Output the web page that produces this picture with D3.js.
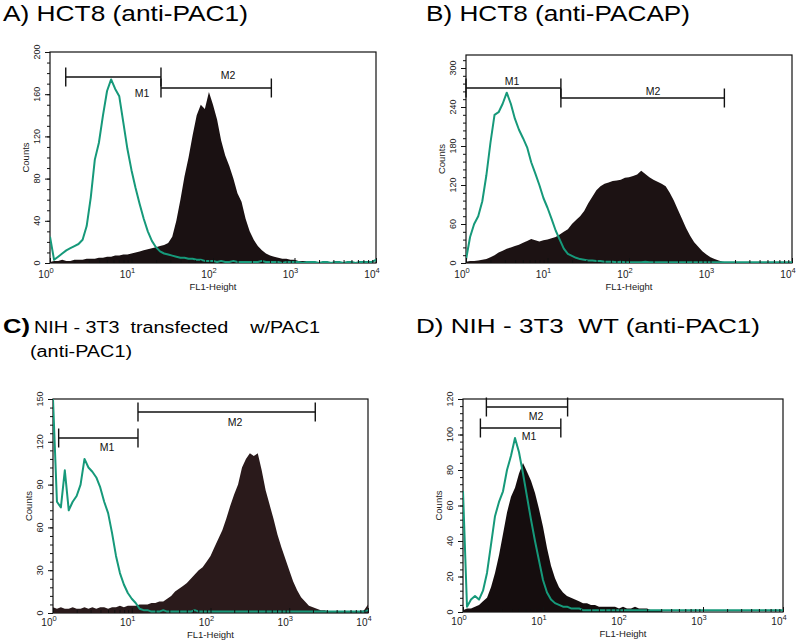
<!DOCTYPE html>
<html>
<head>
<meta charset="utf-8">
<script src="https://cdn.jsdelivr.net/npm/d3@7"></script>
<style>
  body { margin: 0; background: #fff; }
  svg { display: block; font-family: "Liberation Sans", Arial, Helvetica, sans-serif; }
  text { white-space: pre; }
</style>
</head>
<body>
<svg id="chart" width="800" height="644"></svg>
<script>
// ---------- DATA ----------
// channel grid: fluorescence (FL1-Height) sampled every 0.05 decade from 10^0 to 10^4
const channelDecades = d3.range(81).map(i => i * 0.05);
const xTickLabels = ["0", "1", "2", "3", "4"];   // exponents of 10

const panelTitles = ["A) HCT8 (anti-PAC1)", "B) HCT8 (anti-PACAP)", "C) NIH - 3T3  transfected    w/PAC1", "D) NIH - 3T3  WT (anti-PAC1)"];
const panelSubtitle = "(anti-PAC1)";
const yAxisLabel = "Counts";
const xAxisLabel = "FL1-Height";
const yMaxCounts = [200, 320, 150, 120];
const yTickSteps = [40, 60, 30, 20];

// control (green outline) histograms
const controlA = [25,3,6,9,12,14,16,18,22,35, 62,98,114,140,163,174,165,158,133,108, 88,71,56,42,30,21,15,11,9,8, 7,6,5,5,4,4,3,3,2,2, 2,1,2,1,1,2,1,1,1,1, 1,1,2,1,1,1,1,0,1,1, 1,1,0,1,1,1,0,1,1,0, 1,1,0,1,1,0,1,1,1,1, 3];
const controlB = [5,40,60,72,95,135,185,228,232,245, 262,245,222,205,192,178,155,138,120,100, 85,68,50,36,22,14,11,8,6,5, 4,4,3,3,2,2,2,1,2,1, 1,1,1,1,2,1,1,1,1,1, 1,1,1,1,1,1,1,1,1,1, 1,1,1,1,1,1,1,1,1,1, 1,1,1,1,1,1,1,1,1,1, 1];
const controlC = [150,78,74,100,72,78,82,90,108,102, 99,95,88,78,70,56,40,28,20,14, 10,7,3,2,2,1,1,1,2,1, 1,1,1,1,1,1,2,1,1,1, 1,1,1,1,1,1,1,1,1,1, 1,1,1,1,1,1,1,1,1,1, 1,1,1,1,1,1,1,1,1,1, 1,1,1,1,1,1,1,1,1,1, 2];
const controlD = [68,3,7,9,7,12,22,38,54,62, 68,80,88,98,90,78,65,52,40,29, 18,11,7,5,4,3,3,2,2,2, 1,1,1,1,1,1,1,1,1,1, 1,1,1,1,1,1,1,1,1,1, 1,1,1,1,1,1,1,1,1,1, 1,1,1,1,1,1,1,1,1,1, 1,1,1,1,1,1,1,1,1,1, 1];

// antibody-stained (black filled) histograms
const stainedA = [1,2,2,3,2,2,3,3,3,4, 4,4,5,5,6,6,7,7,8,8, 9,10,11,12,13,14,15,16,17,19, 25,40,60,82,100,121,140,150,146,162, 150,136,116,102,92,80,66,58,42,30, 22,16,12,9,7,6,5,4,4,3, 3,2,2,2,1,0,0,0,0,0, 0,0,0,0,0,0,0,0,0,0, 0];
const stainedB = [2,3,3,4,5,6,9,12,16,19, 22,24,26,28,31,34,37,35,33,35, 36,38,40,44,48,52,60,66,72,80, 92,102,112,118,122,124,126,127,128,131, 132,134,136,142,137,132,128,125,122,118, 108,96,82,68,54,42,32,25,18,13, 9,6,4,2,1,0,0,0,0,0, 0,0,0,0,0,0,0,0,0,0, 0];
const stainedC = [4,3,4,3,3,4,3,3,4,3, 4,3,4,4,3,4,4,5,4,5, 5,5,6,6,6,7,7,8,8,10, 12,15,17,19,21,24,27,30,32,36, 40,46,52,58,66,75,83,90,102,108, 112,110,112,100,86,76,66,55,46,38, 30,22,16,11,8,5,4,3,2,2, 1,1,1,1,1,1,1,1,1,2, 6];
const stainedD = [1,2,2,3,4,6,8,14,22,32, 44,56,65,70,78,84,79,74,67,58, 48,36,26,19,14,11,9,8,7,6, 5,5,4,4,3,3,3,3,3,2, 3,2,2,3,2,2,2,1,1,1, 0,0,0,0,0,0,0,0,0,0, 0,0,0,0,0,0,0,0,0,0, 0,0,0,0,0,0,0,0,0,0, 0];

// marker gates (M1 / M2) in FL1 units
const gateNames = ["M1", "M2"];
const gatesA = [[1.56, 23], [23, 520]];
const gatesB = [[1.0, 14.6], [14.6, 1480]];
const gatesC = [[1.18, 12], [12, 2140]];
const gatesD = [[1.65, 16.7], [1.96, 20.3]];

// ---------- LAYOUT ----------
const svg = d3.select("#chart");
const green = "#16997a";

const panels = [
  { left: 50, right: 376, top: 52, bottom: 263, ymax: yMaxCounts[0], step: yTickSteps[0], minor: 10,
    control: controlA, stained: stainedA, gates: gatesA, fill: "#1a1112", tickLab: 15, axLab: 27,
    gateY: [77, 88], gateLabel: [[142, 97], [228, 79]] },
  { left: 466, right: 792, top: 55, bottom: 263, ymax: yMaxCounts[1], step: yTickSteps[1], minor: 12,
    control: controlB, stained: stainedB, gates: gatesB, fill: "#1c1213", tickLab: 15, axLab: 27,
    gateY: [88, 98], gateLabel: [[512, 85], [653, 95]] },
  { left: 53, right: 368, top: 399, bottom: 613, ymax: yMaxCounts[2], step: yTickSteps[2], minor: 6,
    control: controlC, stained: stainedC, gates: gatesC, fill: "#2a1a1b", tickLab: 13, axLab: 25,
    gateY: [438, 412], gateLabel: [[107, 451], [235, 426]] },
  { left: 463, right: 783, top: 399, bottom: 612, ymax: yMaxCounts[3], step: yTickSteps[3], minor: 4,
    control: controlD, stained: stainedD, gates: gatesD, fill: "#150d0e", tickLab: 13, axLab: 25,
    gateY: [428, 407], gateLabel: [[529, 440], [536, 420]] }
];

// ---------- TITLES ----------
svg.append("text").attr("x", 3).attr("y", 21).attr("font-size", 22)
  .attr("textLength", 245).attr("lengthAdjust", "spacingAndGlyphs").text(panelTitles[0]);
svg.append("text").attr("x", 426).attr("y", 21).attr("font-size", 22)
  .attr("textLength", 264).attr("lengthAdjust", "spacingAndGlyphs").text(panelTitles[1]);
svg.append("text").attr("x", 3).attr("y", 333).attr("font-size", 21).attr("font-weight", "bold")
  .attr("textLength", 27).attr("lengthAdjust", "spacingAndGlyphs").text(panelTitles[2].slice(0, 2));
svg.append("text").attr("x", 34).attr("y", 333).attr("font-size", 16)
  .attr("textLength", 286).attr("lengthAdjust", "spacingAndGlyphs").text(panelTitles[2].slice(3));
svg.append("text").attr("x", 30).attr("y", 357).attr("font-size", 16)
  .attr("textLength", 102).attr("lengthAdjust", "spacingAndGlyphs").text(panelSubtitle);
svg.append("text").attr("x", 416).attr("y", 333).attr("font-size", 21)
  .attr("textLength", 344).attr("lengthAdjust", "spacingAndGlyphs").text(panelTitles[3]);

// ---------- PANELS ----------
panels.forEach((p, pi) => {
  const x = d3.scaleLog().domain([1, 10000]).range([p.left, p.right]);
  const y = d3.scaleLinear().domain([0, p.ymax]).range([p.bottom, p.top]);
  const g = svg.append("g");

  const clipId = "clip" + pi;
  g.append("clipPath").attr("id", clipId).append("rect")
    .attr("x", p.left).attr("y", p.top - 2).attr("width", p.right - p.left + 2).attr("height", p.bottom - p.top + 2);

  const stainedData = channelDecades.map((d, i) => ({ f: Math.pow(10, d), v: p.stained[i] }));
  const controlData = channelDecades.map((d, i) => ({ f: Math.pow(10, d), v: p.control[i] }));

  // frame
  g.append("rect").attr("x", p.left).attr("y", p.top)
    .attr("width", p.right - p.left).attr("height", p.bottom - p.top)
    .attr("fill", "none").attr("stroke", "#111").attr("stroke-width", 1.2);

  // filled histogram
  g.append("path").datum(stainedData).attr("clip-path", `url(#${clipId})`)
    .attr("fill", p.fill)
    .attr("d", d3.area().x(d => x(d.f)).y0(y(0)).y1(d => y(d.v)));

  // control outline
  g.append("path").datum(controlData).attr("clip-path", `url(#${clipId})`)
    .attr("fill", "none").attr("stroke", green).attr("stroke-width", 2).attr("stroke-linejoin", "round")
    .attr("d", d3.line().x(d => x(d.f)).y(d => y(d.v)));

  // x axis ticks (inside, pointing up)
  const majors = [1, 10, 100, 1000, 10000];
  const minors = [];
  [1, 10, 100, 1000].forEach(b => { for (let k = 2; k <= 9; k++) minors.push(b * k); });
  const xMinor = d3.axisBottom(x).tickValues(minors).tickSize(-3).tickFormat("");
  const xMajor = d3.axisBottom(x).tickValues(majors).tickSize(-5).tickFormat("");
  [xMinor, xMajor].forEach(ax => {
    const a = g.append("g").attr("transform", `translate(0,${p.bottom})`).call(ax);
    a.select(".domain").remove();
    a.selectAll("line").attr("stroke", "#111").attr("stroke-width", 1);
  });

  // x tick labels 10^n
  majors.forEach((m, i) => {
    const t = g.append("text").attr("x", x(m) - 4).attr("y", p.bottom + p.tickLab)
      .attr("font-size", 10).attr("text-anchor", "middle").attr("fill", "#222");
    t.append("tspan").text("10");
    t.append("tspan").attr("dy", -5).attr("font-size", 7.5).text(xTickLabels[i]);
  });
  g.append("text").attr("x", (p.left + p.right) / 2).attr("y", p.bottom + p.axLab)
    .attr("font-size", 9.5).attr("text-anchor", "middle").attr("fill", "#222").text(xAxisLabel);

  // y axis (outward)
  const yMinorVals = d3.range(0, p.ymax + 0.001, p.minor);
  const yMajorVals = d3.range(0, p.ymax + 0.001, p.step);
  const yMin = d3.axisLeft(y).tickValues(yMinorVals).tickSize(3).tickFormat("");
  const yMaj = d3.axisLeft(y).tickValues(yMajorVals).tickSize(5).tickFormat("");
  [yMin, yMaj].forEach(ax => {
    const a = g.append("g").attr("transform", `translate(${p.left},0)`).call(ax);
    a.select(".domain").remove();
    a.selectAll("line").attr("stroke", "#111").attr("stroke-width", 1);
  });
  yMajorVals.forEach(v => {
    g.append("text").attr("transform", `translate(${p.left - 10},${y(v)}) rotate(-90)`)
      .attr("font-size", 9).attr("text-anchor", "middle").attr("fill", "#222").text(v);
  });
  g.append("text").attr("transform", `translate(${p.left - 21},${(p.top + p.bottom) / 2}) rotate(-90)`)
    .attr("font-size", 9.5).attr("text-anchor", "middle").attr("fill", "#222").text(yAxisLabel);

  // gate markers
  p.gates.forEach((gt, gi) => {
    const gy = p.gateY[gi];
    const x0 = x(gt[0]), x1 = x(gt[1]);
    const mk = g.append("g").attr("stroke", "#111").attr("stroke-width", 1.4);
    mk.append("line").attr("x1", x0).attr("x2", x1).attr("y1", gy).attr("y2", gy);
    mk.append("line").attr("x1", x0).attr("x2", x0).attr("y1", gy - 9.5).attr("y2", gy + 9.5);
    mk.append("line").attr("x1", x1).attr("x2", x1).attr("y1", gy - 9.5).attr("y2", gy + 9.5);
    g.append("text").attr("x", p.gateLabel[gi][0]).attr("y", p.gateLabel[gi][1])
      .attr("font-size", 10.5).attr("text-anchor", "middle").attr("fill", "#111").text(gateNames[gi]);
  });
});
</script>
</body>
</html>
